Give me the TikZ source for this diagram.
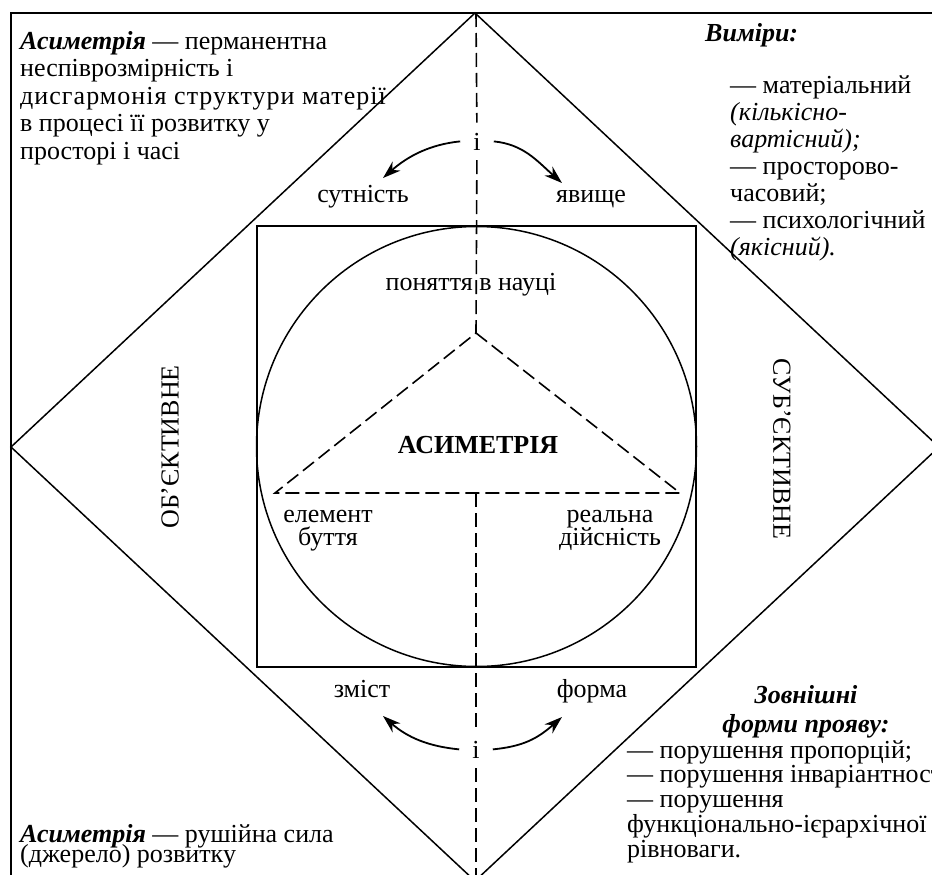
\documentclass[tikz,border=0pt]{standalone}
\usepackage{fontspec}
\setmainfont{Liberation Serif}
\usetikzlibrary{arrows.meta}
\newcommand{\txtfont}[1]{\fontsize{26}{#1}\selectfont\lineskiplimit=-50pt}

\begin{document}
\begin{tikzpicture}[x=1pt, y=-1pt,
  frame/.style={line width=1.9pt},
  outline/.style={line width=1.5pt},
  dashline/.style={line width=1.6pt, dash pattern=on 14pt off 6pt},
  txt/.style={font=\txtfont{27.5}, inner sep=0},
  ilabel/.style={txt, inner xsep=13pt, inner ysep=10pt, anchor=base},
  arc arrow/.style={-{Stealth[length=18pt,width=12pt]}, line width=1.8pt}]
\useasboundingbox (0,0) rectangle (932,875);
\clip (0,0) rectangle (932,875);

% frame and diamond
\draw[frame] (11,900) -- (11,13) -- (950,13);
\coordinate (dtop) at (475,13);
\coordinate (dright) at (939,447);
\coordinate (dbot) at (475,881);
\coordinate (dleft) at (11,447);
\draw[outline] (dtop) -- (dright) -- (dbot) -- (dleft) -- cycle;

% square, circle, triangle
\draw[outline] (257,226) rectangle (696,667);
\draw[outline] (476.5,446.5) circle[radius=220pt];
\coordinate (apex) at (476,333);
\coordinate (bl) at (275,493);
\coordinate (br) at (680,493);
\coordinate (bmid) at (476,493);
\draw[dashline] (apex) -- (br) -- (bl) -- cycle;

% axis with the two "i"
\node[ilabel] (itop) at (477,150) {і};
\node[ilabel] (ibot) at (476,758) {і};
\coordinate (axtop) at (476,13);
\coordinate (axbot) at (476,880);
\draw[dashline] (axtop) -- (itop);
\draw[dashline] (itop) -- (apex);
\draw[dashline] (bmid) -- (ibot);
\draw[dashline] (ibot) -- (axbot);

% labels round the circle (base = last line)
\node[txt, anchor=base] (sut) at (363,202) {сутність};
\node[txt, anchor=base] (yav) at (591,202) {явище};
\node[txt, anchor=base] (pon) at (471,290) {поняття в науці};
\node[txt, anchor=base, font=\txtfont{27.5}\bfseries] (asym) at (478,453) {АСИМЕТРІЯ};
\node[txt, anchor=base, align=center, font=\txtfont{23}] (elem) at (328,545) {елемент\\буття};
\node[txt, anchor=base, align=center, font=\txtfont{23}] (real) at (610,545) {реальна\\дійсність};
\node[txt, anchor=base] (zm) at (362,697) {зміст};
\node[txt, anchor=base] (fm) at (592,697) {форма};
\node[txt, rotate=90] (obj) at (170,447) {ОБ’ЄКТИВНЕ};
\node[txt, rotate=-90] (subj) at (782,449) {СУБ’ЄКТИВНЕ};

% curved arrows
\draw[arc arrow] (itop.west) .. controls +(-30,3) and +(25,-22) .. ([shift={(20,-24)}]sut.base);
\draw[arc arrow] (itop.east) .. controls +(30,3) and +(-25,-22) .. ([shift={(-29,-19)}]yav.base);
\draw[arc arrow] (ibot.west) .. controls +(-30,-3) and +(25,22) .. ([shift={(21,19)}]zm.base);
\draw[arc arrow] (ibot.east) .. controls +(30,-3) and +(-25,22) .. ([shift={(-30,20)}]fm.base);

% corner texts
\node[txt, anchor=base west, align=left] (deftop) at (20,159)
  {\textbf{\textit{Асиметрія}} — перманентна\\неспіврозмірність і\\{\addfontfeatures{LetterSpace=4}дисгармонія структури матерії}\\в процесі її розвитку у\\просторі і часі};
\node[txt, anchor=base west, font=\txtfont{27.5}\bfseries\itshape] (dimhead) at (705,42) {Виміри:};
\node[txt, anchor=base west, align=left, font=\txtfont{27}] (dimlist) at (730,255)
  {— матеріальний\\\textit{(кількісно-}\\\textit{вартісний);}\\— просторово-\\часовий;\\— психологічний\\\textit{(якісний).}};
\node[txt, anchor=base, align=center, font=\txtfont{29}\bfseries\itshape] (formhead) at (806,732) {Зовнішні\\форми прояву:};
\node[txt, anchor=base west, align=left, font=\txtfont{24.75}] (formlist) at (627,857)
  {— порушення пропорцій;\\— порушення інваріантності\kern-7pt;\\— порушення\\функціонально-ієрархічної\\рівноваги.};
\node[txt, anchor=base west, align=left, font=\txtfont{20}] (defbot) at (20,862)
  {\textbf{\textit{Асиметрія}} — рушійна сила\\(джерело) розвитку};
\end{tikzpicture}
\end{document}
